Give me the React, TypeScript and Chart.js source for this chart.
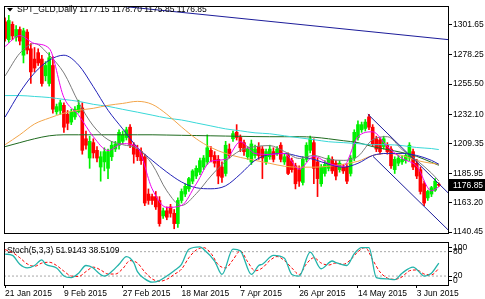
import React, { useEffect, useRef } from "react";
import { Chart, registerables } from "chart.js";
Chart.register(...registerables);

const FONT = "'Liberation Sans', Arial, sans-serif";
const GREEN = "#00F000";
const RED = "#FF0000";

// ---- OHLC (daily bars, index 0 = 21 Jan 2015) ----
const barOpen = [
  1304, 1290, 1302, 1292, 1298, 1278, 1296, 1283, 1275, 1280,
  1275, 1262, 1256, 1270, 1234, 1235, 1239, 1232, 1226, 1230,
  1234, 1237, 1213, 1198, 1210, 1204, 1191, 1195, 1190, 1199,
  1205, 1208, 1211, 1214, 1222, 1208, 1205, 1203, 1199, 1170,
  1168, 1168, 1165, 1153, 1157, 1160, 1155, 1147, 1165, 1170,
  1174, 1180, 1184, 1187, 1191, 1195, 1204, 1200, 1197, 1191,
  1186, 1205, 1213, 1218, 1214, 1210, 1199, 1195, 1200, 1207,
  1205, 1195, 1199, 1203, 1202, 1208, 1195, 1200, 1196, 1192,
  1189, 1179, 1197, 1204, 1210, 1195, 1178, 1186, 1190, 1197,
  1194, 1189, 1191, 1191, 1186, 1198, 1214, 1220, 1221, 1230,
  1222, 1213, 1212, 1207, 1208, 1205, 1189, 1194, 1195, 1196,
  1198, 1203, 1194, 1189, 1178, 1167, 1170, 1173, 1177.15,
];
const barHigh = [
  1307, 1309, 1304, 1301, 1300, 1299, 1298, 1287, 1284, 1283,
  1278, 1273, 1280, 1277, 1240, 1243, 1241, 1235, 1236, 1238,
  1243, 1241, 1219, 1215, 1213, 1207, 1203, 1206, 1205, 1211,
  1211, 1220, 1219, 1222, 1224, 1210, 1208, 1206, 1201, 1174,
  1170, 1172, 1168, 1159, 1160, 1162, 1158, 1167, 1174, 1178,
  1183, 1189, 1192, 1198, 1200, 1216, 1207, 1203, 1200, 1195,
  1211, 1209, 1219, 1224, 1216, 1212, 1207, 1212, 1208, 1210,
  1207, 1205, 1208, 1206, 1207, 1210, 1201, 1202, 1198, 1194,
  1192, 1199, 1210, 1215, 1213, 1198, 1193, 1196, 1200, 1199,
  1196, 1196, 1193, 1193, 1200, 1220, 1227, 1226, 1228, 1232,
  1224, 1215, 1214, 1215, 1210, 1207, 1199, 1200, 1200, 1202,
  1210, 1205, 1197, 1191, 1180, 1173, 1176, 1182, 1178.7,
];
const barLow = [
  1289, 1288, 1290, 1289, 1286, 1272, 1279, 1256, 1265, 1270,
  1254, 1258, 1254, 1233, 1232, 1232, 1218, 1220, 1224, 1228,
  1233, 1201, 1205, 1190, 1198, 1195, 1180, 1188, 1182, 1196,
  1203, 1205, 1209, 1212, 1206, 1194, 1196, 1193, 1161, 1162,
  1162, 1158, 1145, 1151, 1150, 1152, 1143, 1144, 1163, 1168,
  1172, 1178, 1182, 1185, 1189, 1193, 1195, 1191, 1178, 1179,
  1184, 1198, 1211, 1212, 1203, 1200, 1197, 1193, 1198, 1197,
  1182, 1193, 1197, 1195, 1200, 1195, 1193, 1185, 1187, 1174,
  1176, 1177, 1195, 1202, 1178, 1168, 1176, 1184, 1188, 1186,
  1181, 1187, 1186, 1178, 1184, 1196, 1212, 1218, 1219, 1220,
  1207, 1203, 1201, 1205, 1201, 1190, 1186, 1192, 1193, 1194,
  1196, 1189, 1182, 1170, 1161, 1165, 1168, 1172, 1175.85,
];
const barClose = [
  1291, 1305, 1293, 1298, 1289, 1297, 1282, 1265, 1268, 1272,
  1256, 1270, 1276, 1236, 1238, 1241, 1222, 1225, 1234, 1236,
  1239, 1204, 1208, 1211, 1202, 1198, 1199, 1203, 1203, 1208,
  1209, 1218, 1216, 1220, 1208, 1201, 1199, 1196, 1163, 1165,
  1165, 1160, 1147, 1157, 1152, 1155, 1147, 1165, 1172, 1176,
  1182, 1188, 1190, 1196, 1198, 1206, 1199, 1194, 1184, 1183,
  1208, 1200, 1217, 1214, 1206, 1203, 1205, 1209, 1205, 1200,
  1198, 1203, 1205, 1197, 1205, 1197, 1199, 1186, 1189, 1178,
  1180, 1197, 1208, 1213, 1190, 1182, 1191, 1193, 1198, 1188,
  1184, 1194, 1188, 1180, 1198, 1218, 1224, 1224, 1226, 1222,
  1209, 1205, 1203, 1213, 1203, 1192, 1197, 1198, 1197, 1200,
  1208, 1191, 1184, 1172, 1163, 1172, 1175, 1180, 1176.85,
];

// ---- moving averages, read at these bar indices ----
const maIdx = [0, 4, 8, 12, 16, 20, 24, 28, 32, 36, 40, 44, 48, 52, 56, 60, 64, 68, 72, 76, 80, 84, 88, 92, 96, 100, 104, 108, 112, 116, 118];
const maMagenta = [1284.8, 1293.3, 1287.1, 1283.3, 1245.1, 1231.4, 1214.6, 1203.9, 1209.2, 1206.2, 1174.1, 1159.6, 1161.1, 1177.9, 1195.5, 1197.0, 1210.7, 1201.6, 1200.8, 1201.6, 1189.4, 1199.3, 1193.9, 1191.6, 1214.6, 1218.4, 1206.9, 1197.7, 1191.6, 1172.5, 1175.6];
const maGray = [1261.9, 1279.5, 1287.1, 1278.0, 1264.2, 1241.3, 1223.0, 1212.3, 1208.4, 1205.4, 1193.2, 1172.5, 1161.1, 1170.3, 1184.0, 1195.5, 1203.9, 1206.9, 1207.7, 1203.1, 1197.7, 1200.0, 1197.0, 1196.2, 1199.3, 1212.3, 1214.6, 1204.6, 1196.2, 1186.3, 1180.2];
const maBlue = [1229.9, 1249.0, 1264.2, 1274.1, 1278.0, 1270.3, 1253.5, 1235.2, 1220.7, 1206.2, 1196.2, 1187.1, 1179.4, 1174.9, 1174.1, 1176.4, 1185.5, 1196.2, 1200.8, 1201.6, 1199.3, 1197.0, 1193.2, 1190.9, 1193.9, 1200.0, 1201.6, 1201.6, 1200.0, 1196.2, 1193.2];
const maOrange = [1208.4, 1216.1, 1224.5, 1229.1, 1232.9, 1235.2, 1236.7, 1239.0, 1240.5, 1242.1, 1239.8, 1232.1, 1222.2, 1213.0, 1206.2, 1201.6, 1198.5, 1196.2, 1193.9, 1191.6, 1190.9, 1190.9, 1191.6, 1193.2, 1195.5, 1200.0, 1201.6, 1200.0, 1196.2, 1193.9, 1193.2];
const maCyan = [1246.6, 1246.6, 1245.9, 1245.1, 1243.6, 1242.1, 1239.8, 1238.2, 1235.9, 1233.7, 1231.4, 1229.1, 1227.6, 1225.3, 1223.0, 1220.7, 1219.2, 1217.6, 1216.9, 1215.3, 1213.8, 1212.3, 1210.7, 1210.0, 1209.2, 1208.4, 1208.4, 1207.7, 1206.2, 1205.4, 1204.6];
const maDarkGreen = [1206.9, 1210.0, 1213.0, 1215.3, 1216.1, 1216.1, 1216.1, 1216.1, 1216.1, 1216.1, 1216.1, 1215.9, 1215.7, 1215.5, 1215.3, 1215.1, 1214.9, 1214.7, 1214.6, 1214.6, 1214.6, 1214.2, 1213.0, 1211.5, 1210.0, 1206.9, 1204.6, 1202.3, 1199.3, 1194.7, 1192.4];

// ---- trend lines (bar index, price) ----
const trendX = [20, 121];
const trendY = [1319.5, 1290.0];
const chanUpX = [98.7, 121];
const chanUpY = [1232.1, 1169.6];
const chanLoX = [100.1, 121];
const chanLoY = [1199.3, 1140.8];

// ---- stochastic ----
const stochIdx = [0, 2, 4, 6, 8, 10, 11, 14, 16, 18, 20, 22, 24, 25, 27, 29, 31, 33, 35, 36, 38, 40, 42, 44, 46, 48, 50, 53, 54, 57, 59, 62, 64, 67, 69, 70, 73, 76, 78, 80, 83, 86, 89, 90, 93, 95, 97, 99, 101, 104, 106, 108, 111, 113, 114, 116, 118];
const stochMain = [74, 71, 49, 40, 46, 60, 49, 40, 20, 16, 27, 46, 40, 31, 20, 31, 49, 68, 53, 31, 13, 5, 9, 20, 33, 49, 86, 92, 86, 57, 24, 86, 82, 24, 46, 49, 71, 64, 24, 20, 79, 38, 57, 53, 46, 75, 90, 90, 16, 13, 11, 27, 42, 27, 20, 27, 51.91];
const signalIdx = [0, 2, 4, 6, 8, 10, 12, 14, 16, 18, 20, 22, 24, 26, 28, 30, 32, 34, 36, 38, 40, 42, 44, 46, 48, 50, 52, 54, 56, 58, 60, 62, 64, 66, 68, 70, 72, 74, 76, 78, 80, 82, 84, 86, 88, 90, 92, 94, 96, 98, 100, 102, 104, 106, 108, 110, 112, 114, 116, 118];
const stochSignal = [85, 78, 65, 50, 44, 52, 54, 46, 32, 20, 19, 31, 42, 35, 25, 25, 38, 58, 52, 30, 13, 7, 12, 24, 37, 65, 84, 90, 76, 48, 40, 60, 82, 55, 33, 40, 58, 68, 58, 40, 24, 50, 65, 52, 47, 52, 49, 60, 80, 90, 60, 30, 15, 12, 18, 33, 35, 25, 23, 38.51];

// ---- axis labels ----
const priceTicks = [1301.65, 1278.25, 1255.5, 1232.1, 1209.35, 1185.95, 1163.2, 1140.45];
const dateTickIdx = [0, 16, 32, 48, 64, 80, 96, 112];
const dateTickLabels = ["21 Jan 2015", "9 Feb 2015", "27 Feb 2015", "18 Mar 2015", "7 Apr 2015", "26 Apr 2015", "14 May 2015", "3 Jun 2015"];
const stochTickPos = [91, 80, 20, 9];
const stochTickLabels = ["100", "80", "20", "0"];

const headerText = "SPT_GLD,Daily 1177.15 1178.70 1175.85 1176.85";
const stochText = "Stoch(5,3,3) 51.9143 38.5109";

const X_MIN = -0.3;
const X_MAX = 120.5;
const Y_MIN = 1139.7;
const Y_MAX = 1316.2;
const AXIS_W = 37;

function pts(xs: number[], ys: number[]) {
  return xs.map((x, k) => ({ x, y: ys[k] }));
}

function lineDs(data: any[], color: string, extra: any = {}) {
  return {
    type: "line",
    data,
    borderColor: color,
    borderWidth: 1,
    pointRadius: 0,
    cubicInterpolationMode: "monotone",
    order: 1,
    ...extra,
  };
}

const framePlugin = {
  id: "frame",
  afterDraw(chart: any) {
    const { ctx, chartArea } = chart;
    ctx.save();
    ctx.strokeStyle = "#000";
    ctx.lineWidth = 1;
    const l = Math.floor(chartArea.left) + 0.5;
    const t = Math.floor(chartArea.top) + 0.5;
    const r = Math.round(chartArea.right) + 0.5;
    const b = Math.round(chartArea.bottom) + 0.5;
    ctx.strokeRect(l, t, r - l, b - t);
    ctx.restore();
  },
};

const mainOverlay = {
  id: "mainOverlay",
  afterDraw(chart: any) {
    const { ctx, chartArea } = chart;
    ctx.save();
    ctx.fillStyle = "#000";
    ctx.beginPath();
    ctx.moveTo(chartArea.left + 3, 8);
    ctx.lineTo(chartArea.left + 9, 8);
    ctx.lineTo(chartArea.left + 6, 11.5);
    ctx.closePath();
    ctx.fill();
    ctx.font = `8.5px ${FONT}`;
    ctx.textBaseline = "middle";
    ctx.textAlign = "left";
    ctx.fillText(headerText, chartArea.left + 13, 9.5);
    const last = barClose[barClose.length - 1];
    const y = chart.scales.y.getPixelForValue(last);
    ctx.fillStyle = "#000";
    ctx.fillRect(Math.round(chartArea.right) + 1, Math.round(y) - 6, 40, 12);
    ctx.fillStyle = "#fff";
    ctx.fillText(last.toFixed(2), Math.round(chartArea.right) + 5, Math.round(y) + 0.5);
    ctx.restore();
  },
};

const subOverlay = {
  id: "subOverlay",
  afterDraw(chart: any) {
    const { ctx, chartArea } = chart;
    ctx.save();
    ctx.fillStyle = "#000";
    ctx.font = `8.5px ${FONT}`;
    ctx.textBaseline = "middle";
    ctx.textAlign = "left";
    ctx.fillText(stochText, chartArea.left + 3, chartArea.top + 8.5);
    ctx.restore();
  },
};

export default function App() {
  const mainRef = useRef<HTMLCanvasElement>(null);
  const subRef = useRef<HTMLCanvasElement>(null);

  useEffect(() => {
    const idx = barClose.map((_, i) => i);
    const colors = idx.map((i) => (barClose[i] >= barOpen[i] ? GREEN : RED));

    const main = new Chart(mainRef.current as HTMLCanvasElement, {
      type: "bar",
      data: {
        datasets: [
          lineDs(pts(trendX, trendY), "#1C1C9A", { cubicInterpolationMode: "default", tension: 0 }),
          lineDs(pts(chanUpX, chanUpY), "#1C1C9A", { cubicInterpolationMode: "default", tension: 0 }),
          lineDs(pts(chanLoX, chanLoY), "#1C1C9A", { cubicInterpolationMode: "default", tension: 0 }),
          lineDs(pts(maIdx, maMagenta), "#EE00EE"),
          lineDs(pts(maIdx, maGray), "#7A7A7A"),
          lineDs(pts(maIdx, maBlue), "#2222B8"),
          lineDs(pts(maIdx, maOrange), "#F2A54A"),
          lineDs(pts(maIdx, maCyan), "#38D8D8"),
          lineDs(pts(maIdx, maDarkGreen), "#1F6A1F"),
          {
            type: "bar",
            data: idx.map((i) => ({ x: i, y: [barOpen[i], barClose[i]] })),
            backgroundColor: colors,
            borderWidth: 0,
            barThickness: 3,
            minBarLength: 1,
            grouped: false,
            order: 5,
          },
          {
            type: "bar",
            data: idx.map((i) => ({ x: i, y: [barLow[i], barHigh[i]] })),
            backgroundColor: colors,
            borderWidth: 0,
            barThickness: 1,
            grouped: false,
            order: 6,
          },
        ] as any,
      },
      options: {
        animation: false,
        responsive: false,
        events: [],
        layout: { padding: { left: 4, top: 2, right: 0, bottom: 7 } },
        plugins: { legend: { display: false }, tooltip: { enabled: false } },
        scales: {
          x: {
            type: "linear",
            display: false,
            min: X_MIN,
            max: X_MAX,
            offset: false,
          },
          y: {
            type: "linear",
            position: "right",
            min: Y_MIN,
            max: Y_MAX,
            afterBuildTicks: (s: any) => {
              s.ticks = priceTicks.map((v) => ({ value: v }));
            },
            afterFit: (s: any) => {
              s.width = AXIS_W;
            },
            border: { display: false },
            grid: { display: true, drawOnChartArea: false, drawTicks: true, tickLength: 4, color: "#000" },
            ticks: {
              padding: 1,
              color: "#000",
              font: { family: FONT, size: 8.5 },
              callback: (v: any) => Number(v).toFixed(2),
            },
          },
        },
      } as any,
      plugins: [framePlugin, mainOverlay],
    });

    const sub = new Chart(subRef.current as HTMLCanvasElement, {
      type: "line",
      data: {
        datasets: [
          lineDs([{ x: X_MIN, y: 80 }, { x: X_MAX, y: 80 }], "#A8A8A8", { borderDash: [2, 2], cubicInterpolationMode: "default", order: 3 }),
          lineDs([{ x: X_MIN, y: 20 }, { x: X_MAX, y: 20 }], "#A8A8A8", { borderDash: [2, 2], cubicInterpolationMode: "default", order: 3 }),
          lineDs(pts(signalIdx, stochSignal), "#FF0000", { borderDash: [3, 2], order: 2 }),
          lineDs(pts(stochIdx, stochMain), "#22B3AA", { borderWidth: 1.3, order: 1 }),
        ] as any,
      },
      options: {
        animation: false,
        responsive: false,
        events: [],
        layout: { padding: { left: 4, top: 1, right: 0, bottom: 0 } },
        plugins: { legend: { display: false }, tooltip: { enabled: false } },
        scales: {
          x: {
            type: "linear",
            min: X_MIN,
            max: X_MAX,
            offset: false,
            afterBuildTicks: (s: any) => {
              s.ticks = dateTickIdx.map((v) => ({ value: v }));
            },
            afterFit: (s: any) => {
              s.height = 14;
            },
            border: { display: false },
            grid: { display: true, drawOnChartArea: false, drawTicks: true, tickLength: 3, color: "#000" },
            ticks: {
              autoSkip: false,
              maxRotation: 0,
              minRotation: 0,
              align: "start",
              padding: 1,
              color: "#000",
              font: { family: FONT, size: 8.5 },
              callback: (v: any) => {
                const k = dateTickIdx.indexOf(Number(v));
                return k >= 0 ? dateTickLabels[k] : "";
              },
            },
          },
          y: {
            type: "linear",
            position: "right",
            min: -2,
            max: 103.5,
            afterBuildTicks: (s: any) => {
              s.ticks = stochTickPos.map((v) => ({ value: v }));
            },
            afterFit: (s: any) => {
              s.width = AXIS_W;
            },
            border: { display: false },
            grid: { display: true, drawOnChartArea: false, drawTicks: true, tickLength: 4, color: "#000" },
            ticks: {
              padding: 1,
              color: "#000",
              font: { family: FONT, size: 8.5 },
              callback: (v: any) => {
                const k = stochTickPos.indexOf(Number(v));
                return k >= 0 ? stochTickLabels[k] : "";
              },
            },
          },
        },
      } as any,
      plugins: [framePlugin, subOverlay],
    });

    return () => {
      main.destroy();
      sub.destroy();
    };
  }, []);

  return (
    <div style={{ position: "fixed", left: 0, top: 0, width: 485, height: 299, background: "#fff", overflow: "hidden" }}>
      <canvas ref={mainRef} width={485} height={240} style={{ position: "absolute", left: 0, top: 0, width: 485, height: 240 }} />
      <canvas ref={subRef} width={485} height={63} style={{ position: "absolute", left: 0, top: 236, width: 485, height: 63 }} />
    </div>
  );
}
